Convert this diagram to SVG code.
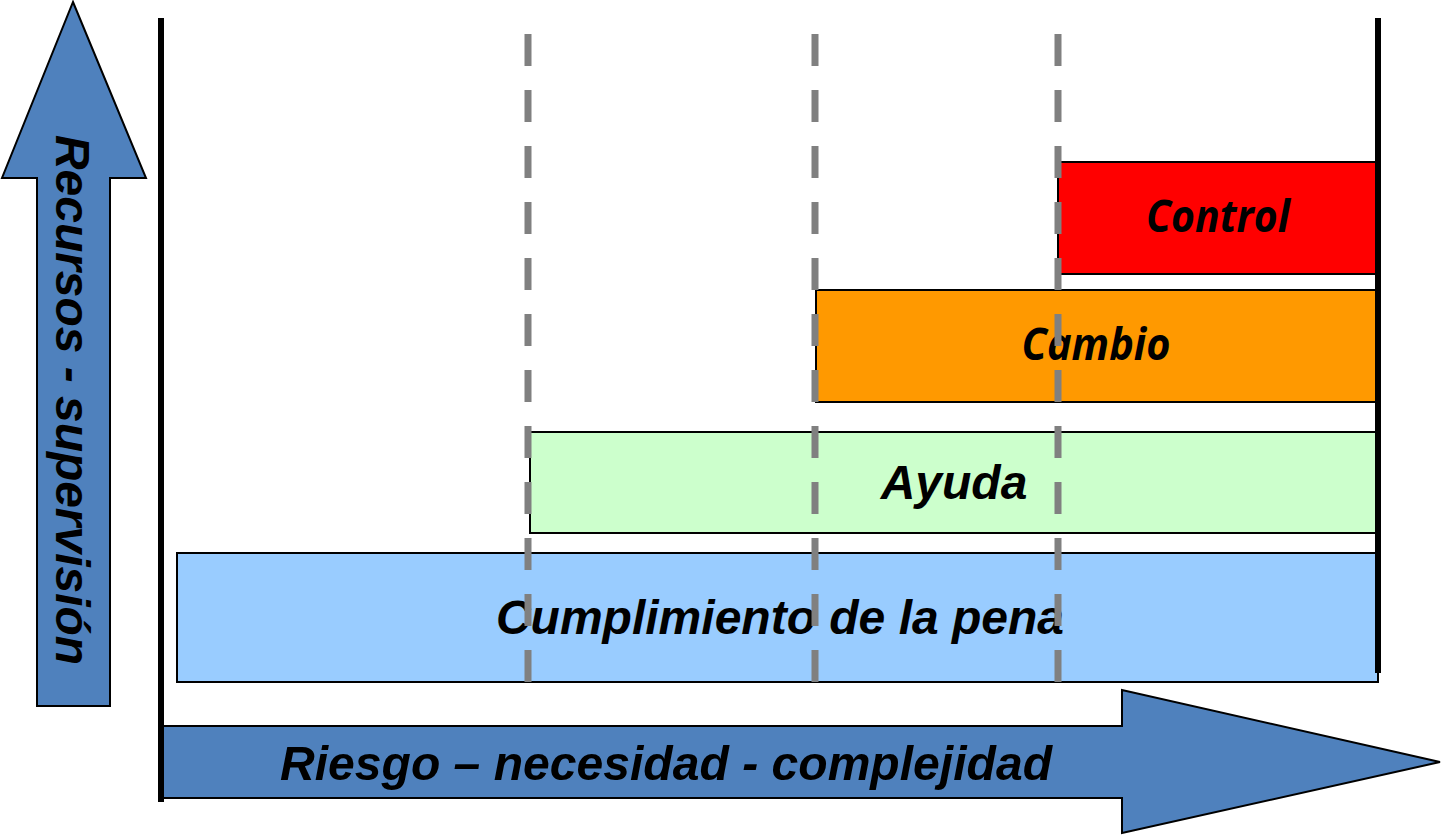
<svg xmlns="http://www.w3.org/2000/svg" width="1441" height="837" viewBox="0 0 1441 837">
<style>
.box{stroke:#000;stroke-width:2}
.arrow{fill:#4F81BD;stroke:#000;stroke-width:2;stroke-linejoin:miter}
.lbl{font-family:"Liberation Sans",Arial,sans-serif;font-weight:bold;font-style:italic;font-size:48px;fill:#000}
.lbl2{font-family:"Open Sans","Noto Sans",sans-serif;font-weight:bold;font-style:italic;font-size:45px;fill:#000}
.dash{stroke:#808080;stroke-width:7;stroke-dasharray:32 24;fill:none}
.axis{stroke:#000;stroke-width:6;fill:none}
</style>
<rect width="1441" height="837" fill="#fff"/>
<g id="arrow-up">
<polygon class="arrow" points="73,2 146,178 110,178 110,706 37,706 37,178 2,178"/>
<text class="lbl" transform="translate(56,400) rotate(90)" text-anchor="middle" textLength="530" lengthAdjust="spacingAndGlyphs">Recursos - supervisión</text>
</g>
<g id="arrow-right">
<polygon class="arrow" points="163,726 1122,726 1122,690 1440,762 1122,833 1122,798 163,798"/>
<text class="lbl" x="666" y="780" text-anchor="middle" textLength="772" lengthAdjust="spacingAndGlyphs">Riesgo – necesidad - complejidad</text>
</g>
<g id="cumplimiento">
<rect class="box" x="177" y="553" width="1201" height="129" fill="#99CCFF"/>
<text class="lbl" x="780" y="634" text-anchor="middle">Cumplimiento de la pena</text>
</g>
<g id="ayuda">
<rect class="box" x="530" y="432" width="846" height="101" fill="#CCFFCC"/>
<text class="lbl" x="954" y="499" text-anchor="middle">Ayuda</text>
</g>
<g id="cambio">
<rect class="box" x="816" y="290" width="560" height="112" fill="#FF9900"/>
<text class="lbl2" x="1096" y="360" text-anchor="middle" textLength="149" lengthAdjust="spacingAndGlyphs">Cambio</text>
</g>
<g id="control">
<rect class="box" x="1058" y="162" width="318" height="112" fill="#FF0000"/>
<text class="lbl2" x="1218" y="232" text-anchor="middle" textLength="144" lengthAdjust="spacingAndGlyphs">Control</text>
</g>
<g id="connectors">
<line class="dash" x1="528" y1="34" x2="528" y2="682"/>
<line class="dash" x1="815" y1="34" x2="815" y2="682"/>
<line class="dash" x1="1058" y1="34" x2="1058" y2="682"/>
<line class="axis" x1="161" y1="18" x2="161" y2="802"/>
<line class="axis" x1="1378" y1="18" x2="1378" y2="673"/>
</g>
</svg>
